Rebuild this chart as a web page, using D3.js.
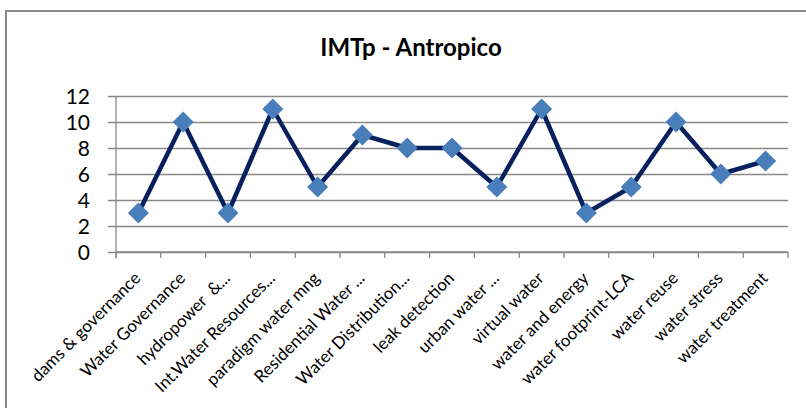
<!DOCTYPE html>
<html>
<head>
<meta charset="utf-8">
<script src="https://cdn.jsdelivr.net/npm/d3@7"></script>
<style>
  html, body { margin: 0; padding: 0; background: #fff; }
  svg { display: block; }
  text { font-family: Lato, "Open Sans", sans-serif; fill: #000; white-space: pre; }
</style>
</head>
<body>
<svg id="chart" width="806" height="408"></svg>
<script>
// Topics and their IMTp (anthropic) counts
const categories = [
  "dams & governance", "Water Governance", "hydropower  &...", "Int.Water Resources...",
  "paradigm water mng", "Residential Water ...", "Water Distribution...", "leak detection",
  "urban water ...", "virtual water", "water and energy", "water footprint-LCA",
  "water reuse", "water stress", "water treatment"
];
const values = [3, 10, 3, 11, 5, 9, 8, 8, 5, 11, 3, 5, 10, 6, 7];
const yTicks = [0, 2, 4, 6, 8, 10, 12];
const title = "IMTp - Antropico";

const svg = d3.select("#chart");
const W = 806, H = 408;
const plot = { left: 116, right: 788, top: 96, bottom: 252 };
const grey = "#898989";

// Chart frame (only the top and left edges fall inside the view)
svg.append("path")
  .attr("d", `M6,${H + 2} L6,11 L${W + 2},11`)
  .attr("fill", "none").attr("stroke", grey).attr("stroke-width", 2);

// Title
svg.append("text")
  .attr("x", 411).attr("y", 56)
  .attr("text-anchor", "middle")
  .attr("font-size", 24).attr("font-weight", "bold")
  .text(title);

const x = d3.scaleBand().domain(categories).range([plot.left, plot.right]);
const y = d3.scaleLinear().domain([0, 12]).range([plot.bottom, plot.top]);

// Horizontal gridlines with outward ticks on the value axis
const gy = svg.append("g").attr("transform", `translate(${plot.left},0)`)
  .call(d3.axisLeft(y).tickValues(yTicks).tickSize(8).tickPadding(18));
gy.select(".domain").remove();
gy.selectAll(".tick line").attr("stroke", grey).attr("stroke-width", 1.3)
  .attr("x2", plot.right - plot.left).attr("x1", -8);
gy.selectAll(".tick text")
  .attr("font-size", 21).attr("font-family", "Lato, sans-serif").attr("fill", "#000")
  .attr("dy", "0.35em");

// Vertical value-axis line
svg.append("line")
  .attr("x1", plot.left).attr("x2", plot.left)
  .attr("y1", plot.top).attr("y2", plot.bottom + 6)
  .attr("stroke", grey).attr("stroke-width", 1.3);

// Category axis: ticks at band boundaries
const bounds = categories.map(c => x(c)).concat([plot.right]);
const gx = svg.append("g");
gx.append("line")
  .attr("x1", plot.left).attr("x2", plot.right)
  .attr("y1", plot.bottom).attr("y2", plot.bottom)
  .attr("stroke", grey).attr("stroke-width", 1.3);
gx.selectAll(".xt").data(bounds).join("line")
  .attr("x1", d => d).attr("x2", d => d)
  .attr("y1", plot.bottom).attr("y2", plot.bottom + 6)
  .attr("stroke", grey).attr("stroke-width", 1.3);

// Rotated category labels
gx.selectAll(".xl").data(categories).join("text")
  .attr("transform", d => `translate(${x(d) + x.bandwidth() / 2 - 1},${plot.bottom + 23}) rotate(-45)`)
  .attr("text-anchor", "end")
  .attr("dy", "0.35em")
  .attr("font-size", 17)
  .text(d => d);

// Series line
const cx = d => x(d) + x.bandwidth() / 2;
const line = d3.line().x((d, i) => cx(categories[i])).y(d => y(d));
svg.append("path")
  .datum(values)
  .attr("d", line)
  .attr("fill", "none")
  .attr("stroke", "#06215e")
  .attr("stroke-width", 4.5)
  .attr("stroke-linejoin", "round");

// Diamond markers
svg.selectAll(".pt").data(values).join("path")
  .attr("transform", (d, i) => `translate(${cx(categories[i])},${y(d)})`)
  .attr("d", "M0,-10.5 L10.5,0 L0,10.5 L-10.5,0 Z")
  .attr("fill", "#4a7ebb");
</script>
</body>
</html>
